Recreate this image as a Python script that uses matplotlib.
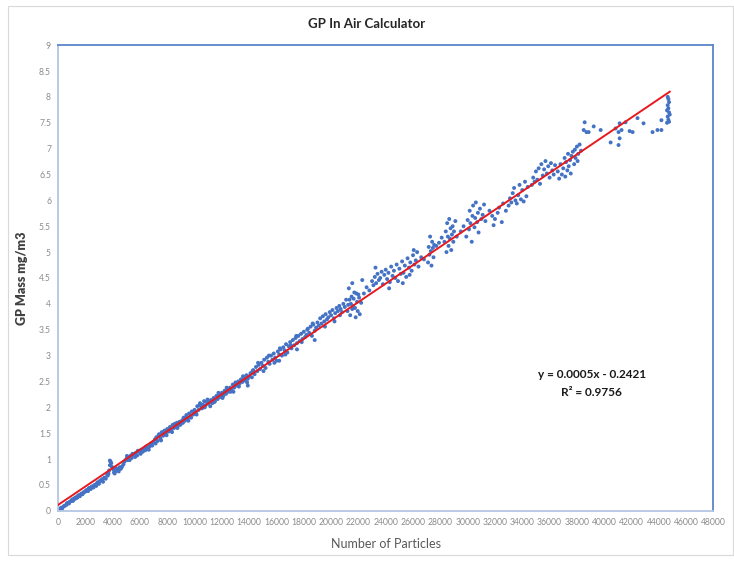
import numpy as np
import matplotlib.pyplot as plt
from matplotlib.patches import Rectangle

# number of particles vs. GP mass (grouped by stretch of the x axis)
x_0_4k = [100, 200, 300, 400, 500, 600, 700, 800, 900, 1000, 1100, 1200, 1300, 1400,
          1500, 1600, 1700, 1800, 1900, 2000, 2100, 2200, 2300, 2400, 2500, 2600, 2700,
          2800, 2900, 3000, 3100, 3200, 3300, 3400, 3500, 3600, 3700, 3800, 3850, 3900, 3950,
          250, 450, 650, 850, 1050, 1250, 1450, 1650, 1850, 2050, 2250, 2450, 2650, 2850,
          3050, 3250, 3450, 3650, 3750, 3800]
y_0_4k = [0.02, 0.05, 0.04, 0.08, 0.10, 0.11, 0.15, 0.14, 0.18, 0.20, 0.19, 0.24, 0.26, 0.25,
          0.30, 0.28, 0.33, 0.32, 0.36, 0.37, 0.40, 0.38, 0.44, 0.42, 0.47, 0.45, 0.50,
          0.48, 0.55, 0.52, 0.58, 0.60, 0.56, 0.64, 0.62, 0.70, 0.72, 0.88, 0.95, 0.92, 0.85,
          0.06, 0.09, 0.14, 0.17, 0.22, 0.23, 0.28, 0.31, 0.35, 0.39, 0.43, 0.46, 0.49, 0.53,
          0.57, 0.61, 0.63, 0.68, 0.78, 0.97]

x_4k_7k = [4050, 4100, 4150, 4200, 4300, 4400, 4500, 4600, 4700, 4800, 4900, 5000, 5100,
           5200, 5300, 5400, 5500, 5600, 5700, 5800, 5900, 6000, 6100, 6200, 6300, 6400,
           6500, 6600, 6700, 6800, 6900, 7000,
           4250, 4450, 4650, 4850, 5050, 5250, 5450, 5650, 5850, 6050, 6250, 6450, 6650, 6850]
y_4k_7k = [0.80, 0.74, 0.72, 0.76, 0.78, 0.80, 0.84, 0.81, 0.86, 0.90, 0.96, 1.00, 0.98,
           1.04, 1.06, 1.02, 1.08, 1.10, 1.12, 1.07, 1.15, 1.13, 1.18, 1.14, 1.20, 1.17,
           1.22, 1.20, 1.24, 1.28, 1.26, 1.33,
           0.82, 0.76, 0.84, 0.95, 1.06, 0.98, 1.10, 1.04, 1.16, 1.10, 1.16, 1.24, 1.18, 1.30]

x_7k_11k = [7100, 7200, 7300, 7400, 7500, 7600, 7700, 7800, 7900, 8000, 8100, 8200, 8300,
            8400, 8500, 8600, 8700, 8800, 8900, 9000, 9100, 9200, 9300, 9400, 9500, 9600,
            9700, 9800, 9900, 10000, 10100, 10200, 10300, 10400, 10500, 10600, 10700, 10800,
            10900, 11000,
            7150, 7350, 7550, 7750, 7950, 8150, 8350, 8550, 8750, 8950, 9150, 9350, 9550,
            9750, 9950, 10150, 10350, 10550, 10750, 10950]
y_7k_11k = [1.38, 1.42, 1.35, 1.48, 1.40, 1.52, 1.45, 1.55, 1.50, 1.58, 1.53, 1.62, 1.55,
            1.66, 1.60, 1.63, 1.70, 1.65, 1.72, 1.68, 1.75, 1.80, 1.74, 1.85, 1.78, 1.88,
            1.82, 1.92, 1.86, 1.95, 1.90, 2.02, 1.95, 2.08, 2.00, 2.05, 2.12, 2.04,
            2.10, 2.07,
            1.30, 1.45, 1.36, 1.50, 1.46, 1.56, 1.52, 1.68, 1.60, 1.66, 1.70, 1.80, 1.74,
            1.80, 1.90, 1.86, 2.04, 1.98, 2.00, 2.15]

x_11k_14k = [11100, 11200, 11300, 11400, 11500, 11600, 11700, 11800, 11900, 12000, 12100,
             12200, 12300, 12400, 12500, 12600, 12700, 12800, 12900, 13000, 13100, 13200,
             13300, 13400, 13500, 13600, 13700, 13800, 13900, 14000,
             11150, 11450, 11750, 12050, 12350, 12650, 12950, 13250, 13550, 13850, 13900, 12850]
y_11k_14k = [2.10, 2.14, 2.08, 2.18, 2.12, 2.22, 2.16, 2.25, 2.20, 2.28, 2.22,
             2.32, 2.26, 2.35, 2.30, 2.38, 2.34, 2.44, 2.38, 2.48, 2.42, 2.50,
             2.46, 2.54, 2.49, 2.58, 2.52, 2.62, 2.55, 2.60,
             2.02, 2.10, 2.28, 2.18, 2.38, 2.30, 2.44, 2.40, 2.60, 2.48, 2.42, 2.30]

x_14k_19k = [14100, 14200, 14300, 14400, 14500, 14600, 14700, 14800, 14900, 15000, 15100,
             15200, 15300, 15400, 15500, 15600, 15700, 15800, 15900, 16000, 16100, 16200,
             16300, 16400, 16500, 16600, 16700, 16800, 16900, 17000, 17100, 17200, 17300,
             17400, 17500, 17600, 17700, 17800, 17900, 18000, 18100, 18200, 18300, 18400,
             18500, 18600, 18700, 18800, 18900, 19000,
             14250, 14650, 15050, 15450, 15850, 16250, 16650, 17050, 17450, 17850, 18250,
             18650, 16200, 17500, 18800]
y_14k_19k = [2.66, 2.58, 2.72, 2.64, 2.78, 2.70, 2.82, 2.74, 2.86, 2.80, 2.92,
             2.76, 2.96, 2.88, 2.84, 3.00, 2.92, 3.04, 2.96, 2.90, 3.08, 3.02,
             3.12, 3.00, 3.16, 3.10, 3.22, 3.06, 3.18, 3.26, 3.14, 3.30, 3.20,
             3.34, 3.24, 3.38, 3.28, 3.42, 3.32, 3.46, 3.36, 3.40, 3.52, 3.44,
             3.56, 3.38, 3.60, 3.48, 3.54, 3.64,
             2.70, 2.86, 2.70, 3.00, 2.86, 3.14, 3.02, 3.20, 3.38, 3.26, 3.50,
             3.62, 2.90, 3.12, 3.30]

x_19k_22k = [19100, 19200, 19300, 19400, 19500, 19600, 19700, 19800, 19900, 20000, 20100,
             20200, 20300, 20400, 20500, 20600, 20700, 20800, 20900, 21000, 21100, 21200,
             21300, 21400, 21500, 21600, 21700, 21800, 21900, 22000, 22100, 22200,
             21450, 21550, 21650, 21750, 21850, 21950, 22050, 21350, 21250,
             19550, 20250, 20650, 21550, 22280]
y_19k_22k = [3.58, 3.72, 3.62, 3.76, 3.66, 3.80, 3.70, 3.74, 3.84, 3.78, 3.88,
             3.72, 3.82, 3.92, 3.86, 3.96, 3.90, 3.84, 4.00, 3.94, 4.08, 3.86,
             4.30, 3.78, 4.14, 3.96, 4.22, 3.74, 4.04, 4.18, 3.80, 4.02,
             4.00, 3.90, 4.10, 3.92, 4.20, 3.86, 4.12, 4.08, 3.98,
             3.56, 3.66, 3.78, 4.40, 4.46]

x_22k_27k = [22400, 22600, 22800, 23000, 23100, 23200, 23300, 23400, 23500, 23600, 23700,
             23800, 23900, 24000, 24100, 24200, 24300, 24400, 24500, 24600, 24700, 24800,
             24900, 25000, 25100, 25200, 25300, 25400, 25500, 25600, 25700, 25800, 25900,
             26000, 26100, 26200, 26300, 26400, 26600, 26800,
             23250, 24250, 25250, 26050, 25750]
y_22k_27k = [4.20, 4.32, 4.26, 4.44, 4.36, 4.52, 4.40, 4.58, 4.46, 4.50, 4.62,
             4.38, 4.56, 4.66, 4.48, 4.60, 4.42, 4.72, 4.54, 4.64, 4.50, 4.76,
             4.44, 4.68, 4.58, 4.82, 4.60, 4.74, 4.52, 4.88, 4.70, 4.80, 4.64,
             4.94, 4.76, 4.84, 5.00, 4.72, 4.90, 4.86,
             4.70, 4.30, 4.40, 5.04, 4.56]

x_27k_32k = [27100, 27150, 27200, 27250, 27300, 27350, 27400, 27450, 27500, 27550,
             27700, 27900, 28100,
             28300, 28400, 28450, 28500, 28550, 28600, 28650, 28700, 28750, 28800, 28850,
             28900, 28950, 29000, 29100, 29200,
             29500, 29700, 29900, 30000, 30100, 30150, 30200, 30300, 30350, 30400, 30500,
             30550, 30600, 30700, 30750, 30800, 30900, 31000, 31100, 31200, 31300]
y_27k_32k = [4.80, 5.10, 4.95, 5.30, 5.02, 4.74, 5.20, 5.08, 4.90, 5.14,
             5.12, 5.18, 5.28,
             5.20, 5.40, 5.00, 5.56, 5.30, 5.12, 5.64, 5.26, 5.46, 5.04, 5.34,
             5.50, 5.20, 5.40, 5.60, 5.30,
             5.40, 5.50, 5.30, 5.62, 5.44, 5.80, 5.56, 5.20, 5.70, 5.90, 5.48,
             5.66, 5.96, 5.58, 5.76, 5.38, 5.84, 5.64, 5.72, 5.92, 5.60]

x_32k_38k = [31600, 31800, 31900, 32000, 32200, 32300, 32500, 32600, 32800, 33000,
             33100, 33200, 33300, 33400, 33500, 33600, 33700, 33800, 33900, 34000, 34100,
             34200, 34300, 34400,
             34700, 34800, 34900, 35000, 35100, 35200, 35300, 35400, 35500, 35600, 35700,
             35800, 35900, 36000, 36100, 36200, 36300, 36400,
             36600, 36700, 36800, 36900, 37000, 37100, 37150, 37200, 37300, 37350, 37400,
             37500, 37550, 37600, 37700, 37800, 37850, 37900, 38000, 38050, 38100, 38200,
             38300]
y_32k_38k = [5.80, 5.70, 5.52, 5.64, 5.76, 5.86, 5.58, 5.94, 5.80, 5.90,
             6.04, 5.96, 6.14, 6.24, 6.00, 5.94, 6.10, 6.30, 6.02, 6.20, 5.98,
             6.36, 6.08, 6.26,
             6.30, 6.44, 6.36, 6.56, 6.40, 6.62, 6.32, 6.70, 6.48, 6.60, 6.76,
             6.52, 6.66, 6.44, 6.72, 6.58, 6.50, 6.68,
             6.56, 6.42, 6.70, 6.50, 6.62, 6.82, 6.46, 6.74, 6.58, 6.90, 6.66,
             6.78, 6.52, 6.86, 6.94, 6.70, 6.98, 6.82, 7.04, 6.76, 6.90, 7.08,
             6.96]

x_38k_45k = [38570, 38500, 38700, 38860, 39230, 39740, 40470, 41050, 40830, 41050, 41130,
             41270, 41560, 41130, 41860, 42080, 42440, 42880, 43540, 43900, 44190, 44190,
             44600, 44700, 44650, 44750, 44700, 44650, 44750, 44700, 44650, 44800, 44600, 44750]
y_38k_45k = [7.51, 7.36, 7.32, 7.32, 7.43, 7.36, 7.12, 7.07, 7.39, 7.32, 7.49,
             7.36, 7.51, 7.20, 7.34, 7.32, 7.59, 7.49, 7.32, 7.36, 7.36, 7.55,
             7.50, 7.56, 7.62, 7.70, 7.78, 7.84, 7.90, 7.96, 8.00, 7.66, 7.74, 7.52]

particles = np.array(x_0_4k + x_4k_7k + x_7k_11k + x_11k_14k + x_14k_19k +
                     x_19k_22k + x_22k_27k + x_27k_32k + x_32k_38k + x_38k_45k, dtype=float)
gp_mass = np.array(y_0_4k + y_4k_7k + y_7k_11k + y_11k_14k + y_14k_19k +
                   y_19k_22k + y_22k_27k + y_27k_32k + y_32k_38k + y_38k_45k)

x_ticks = list(range(0, 48001, 2000))
y_ticks = [i * 0.5 for i in range(19)]
y_tick_labels = ["0", "0.5", "1", "1.5", "2", "2.5", "3", "3.5", "4", "4.5",
                 "5", "5.5", "6", "6.5", "7", "7.5", "8", "8.5", "9"]

plt.rcParams["font.family"] = ["Lato", "DejaVu Sans"]

fig = plt.figure(figsize=(7.34, 5.65), dpi=100)
ax = fig.add_axes([0.079, 0.096, 0.893, 0.824])

# faint frame round the whole chart area
fig.patches.append(Rectangle((0.011, 0.018), 0.987, 0.972, transform=fig.transFigure,
                             fill=False, edgecolor="#d9d9d9", linewidth=0.8))

ax.scatter(particles, gp_mass, s=8, c="#4472c4", edgecolors="none", zorder=2)

# linear trendline through the points
slope, intercept = np.polyfit(particles, gp_mass, 1)
trend_x = np.array([0, particles.max()])
ax.plot(trend_x, slope * trend_x + intercept, color="#e8191c", linewidth=1.4, zorder=3)

ax.set_xlim(0, 48000)
ax.set_ylim(0, 9)
ax.set_xticks(x_ticks)
ax.set_xticklabels([str(t) for t in x_ticks])
ax.set_yticks(y_ticks)
ax.set_yticklabels(y_tick_labels)
ax.tick_params(length=0, labelsize=6.2, labelcolor="#8c8c8c", pad=5)

for side in ["top", "right"]:
    ax.spines[side].set_color("#5b86c9")
    ax.spines[side].set_linewidth(1.3)
for side in ["left", "bottom"]:
    ax.spines[side].set_color("#b4c6e4")
    ax.spines[side].set_linewidth(1.3)

ax.set_xlabel("Number of Particles", fontsize=9, color="#595959", labelpad=8)
ax.set_ylabel("GP Mass mg/m3", fontsize=9, color="#404040", fontweight="heavy", labelpad=8)
fig.suptitle("GP In Air Calculator", fontsize=9.5, fontweight="bold", color="#262626", y=0.968)

ax.text(39100, 2.63, "y = 0.0005x - 0.2421", fontsize=8.5, fontweight="bold",
        ha="center", va="center", color="#1a1a1a")
ax.text(39100, 2.28, "R² = 0.9756", fontsize=8.5, fontweight="bold",
        ha="center", va="center", color="#1a1a1a")

fig.savefig("out.png", dpi=100)
